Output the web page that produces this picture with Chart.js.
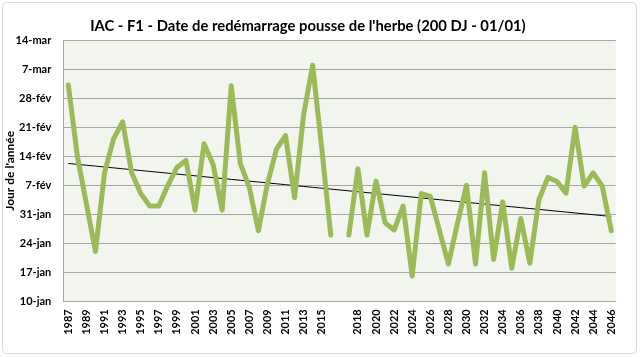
<!DOCTYPE html>
<html>
<head>
<meta charset="utf-8">
<script src="https://cdn.jsdelivr.net/npm/chart.js@4"></script>
<style>
html,body{margin:0;padding:0;background:#fff;}
canvas{display:block;}
</style>
</head>
<body>
<canvas id="c" width="640" height="357"></canvas>
<script>
// Categories: 1987-2016, one empty category, 2017-2046
const years1 = [1987,1988,1989,1990,1991,1992,1993,1994,1995,1996,1997,1998,1999,2000,2001,2002,2003,2004,2005,2006,2007,2008,2009,2010,2011,2012,2013,2014,2015,2016];
const years2 = [2017,2018,2019,2020,2021,2022,2023,2024,2025,2026,2027,2028,2029,2030,2031,2032,2033,2034,2035,2036,2037,2038,2039,2040,2041,2042,2043,2044,2045,2046];
// Day of year of grass growth restart (200 DJ since 01/01)
const values1 = [62.2,45,33.5,22,41,49.2,53.3,41,36,33,33,38,42.3,44,32,48,43,32,62,43.3,37.5,27,38.3,46.7,50,35,55,67,47,26];
const values2 = [26,42,26,39,29,27.2,33,16.1,36,35.3,27.2,19,28.8,38,19,41,20.1,34,18,30,19.2,34.5,39.9,38.9,36.1,52,37.8,41,37.8,27];
// Y axis ticks (day of year) and their labels
const yTickValues = [10,17,24,31,38,45,52,59,66,73];
const yTickLabels = ['10-jan','17-jan','24-jan','31-jan','7-fév','14-fév','21-fév','28-fév','7-mar','14-mar'];

const labels = years1.map(String).concat([''], years2.map(String));
const values = values1.concat([null], values2);

// Linear trend (least squares on category index)
const pts = values.map((v,i)=>[i,v]).filter(p=>p[1]!==null);
const n = pts.length;
const mx = pts.reduce((s,p)=>s+p[0],0)/n;
const my = pts.reduce((s,p)=>s+p[1],0)/n;
let sxy=0,sxx=0;
pts.forEach(p=>{sxy+=(p[0]-mx)*(p[1]-my);sxx+=(p[0]-mx)*(p[0]-mx);});
const slope = sxy/sxx, icpt = my - slope*mx;
const trend = values.map((v,i)=>icpt+slope*i);

const FONT = 'Lato, "Open Sans", sans-serif';

const bgPlugin = {
  id:'bg',
  beforeDraw(chart){
    const {ctx, chartArea:a} = chart;
    ctx.save();
    ctx.fillStyle = '#fff';
    ctx.fillRect(0,0,chart.width,chart.height);
    ctx.fillStyle = '#F2F4EE';
    ctx.fillRect(a.left, a.top, a.right-a.left, a.bottom-a.top);
    ctx.strokeStyle = '#D9D9D9';
    ctx.lineWidth = 1;
    ctx.beginPath();
    if (ctx.roundRect) ctx.roundRect(2.5,2.5,634,351,4); else ctx.rect(2.5,2.5,634,351);
    ctx.stroke();
    ctx.restore();
  }
};

new Chart(document.getElementById('c'), {
  type:'line',
  data:{
    labels: labels,
    datasets:[
      {data: values, borderColor:'#9BBB59', borderWidth:5, pointRadius:0, tension:0, spanGaps:false, borderJoinStyle:'round', borderCapStyle:'round'},
      {data: trend, borderColor:'#000000', borderWidth:1, pointRadius:0, tension:0}
    ]
  },
  options:{
    responsive:false,
    animation:false,
    layout:{padding:{left:0,right:24.2,top:0,bottom:0}},
    plugins:{
      legend:{display:false},
      tooltip:{enabled:false},
      title:{display:true, text:"IAC - F1 - Date de redémarrage pousse de l'herbe (200 DJ - 01/01)",
        color:'#000', font:{family:FONT, size:14.8, weight:'bold'}, padding:{top:17,bottom:5.5}}
    },
    scales:{
      x:{
        type:'category', offset:true,
        grid:{display:false, drawTicks:false},
        border:{display:false},
        ticks:{autoSkip:false, maxRotation:90, minRotation:90, padding:8, color:'#000',
          font:{family:FONT, size:11, weight:'bold'},
          callback:(v,i)=> i%2===0 ? labels[i] : ''},
        afterFit:(s)=>{s.height = 55.7;}
      },
      y:{
        min:10, max:73,
        afterBuildTicks:(s)=>{s.ticks = yTickValues.map(v=>({value:v}));},
        grid:{color:'#A6A6A6', lineWidth:1, drawTicks:false},
        border:{display:true, color:'#A6A6A6'},
        ticks:{padding:12.5, color:'#000', font:{family:FONT, size:11, weight:'bold'},
          callback:(v)=>{const k=yTickValues.indexOf(v); return k>=0?yTickLabels[k]:'';}},
        title:{display:true, text:"Jour de l'année", color:'#000', font:{family:FONT, size:12, weight:'bold'}, padding:{top:3,bottom:0}},
        afterFit:(s)=>{s.width = 63.8;}
      }
    }
  },
  plugins:[bgPlugin]
});
</script>
</body>
</html>
